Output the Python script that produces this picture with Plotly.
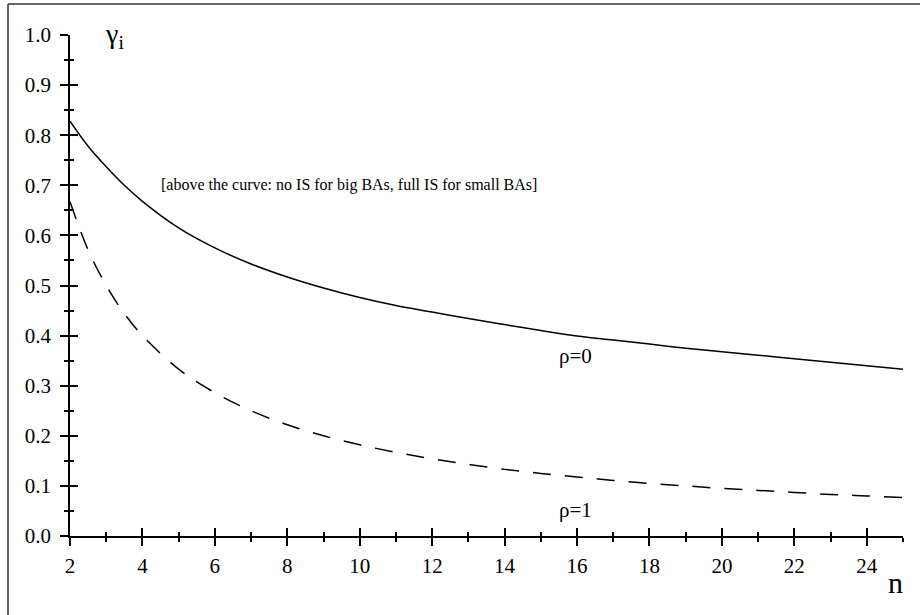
import plotly.graph_objects as go

# ---- data ----
n_vals = [2, 2.5, 3, 3.5, 4, 5, 6, 7, 8, 9, 10, 11, 12, 13, 14, 15, 16, 17, 18, 19, 20, 21, 22, 23, 24, 25]
gamma_rho0 = [0.828, 0.778, 0.737, 0.700, 0.668, 0.615, 0.575, 0.543, 0.517, 0.495, 0.476, 0.460,
              0.447, 0.434, 0.422, 0.410, 0.399, 0.391, 0.383, 0.375, 0.368, 0.361, 0.354, 0.347,
              0.340, 0.333]
gamma_rho1 = [0.667, 0.571, 0.500, 0.444, 0.400, 0.333, 0.286, 0.250, 0.222, 0.200, 0.182, 0.167,
              0.154, 0.143, 0.133, 0.125, 0.118, 0.111, 0.105, 0.100, 0.095, 0.091, 0.087, 0.083,
              0.080, 0.077]

x_range = [2, 25]
y_range = [0, 1.0]
x_ticks = list(range(2, 25, 2))
y_ticks = [round(0.1 * i, 1) for i in range(11)]
y_ticklabels = [f"{v:.1f}" for v in y_ticks]

note_text = "[above the curve: no IS for big BAs, full IS for small BAs]"
label_rho0 = "ρ=0"
label_rho1 = "ρ=1"
label_gamma = "γ<sub>i</sub>"
label_n = "n"

FONT = "Liberation Serif, Times New Roman, serif"
W, H = 920, 615
ML, MR, MT, MB = 70, 17, 35, 79

fig = go.Figure()
fig.add_trace(go.Scatter(x=n_vals, y=gamma_rho0, mode="lines", line=dict(color="black", width=1.5, shape="spline"),
                         showlegend=False, hoverinfo="skip"))
fig.add_trace(go.Scatter(x=n_vals, y=gamma_rho1, mode="lines", xaxis="x2", yaxis="y2",
                         line=dict(color="black", width=1.5, dash="18px,14px", shape="spline"),
                         showlegend=False, hoverinfo="skip"))

common_x = dict(range=x_range, showgrid=False, zeroline=False, tickcolor="black", tickwidth=1.5,
                tickmode="array", tickvals=x_ticks, ticklen=8)
common_y = dict(range=y_range, showgrid=False, zeroline=False, tickcolor="black", tickwidth=1.5,
                tickmode="array", tickvals=y_ticks, ticklen=8)

fig.update_layout(
    width=W, height=H,
    margin=dict(l=ML, r=MR, t=MT, b=MB, pad=0),
    paper_bgcolor="white", plot_bgcolor="white",
    font=dict(family=FONT, color="black", size=21),
    xaxis=dict(**common_x, ticks="outside", showline=True, linecolor="black", linewidth=1.5,
               ticktext=[str(v) for v in x_ticks], ticklabelstandoff=2,
               tickfont=dict(family=FONT, size=21, color="black"),
               minor=dict(ticks="outside", ticklen=4, dtick=1, tick0=2, tickcolor="black", tickwidth=1.5)),
    xaxis2=dict(**common_x, overlaying="x", anchor="y", side="bottom", ticks="inside", showline=False,
                showticklabels=False,
                minor=dict(ticks="inside", ticklen=4, dtick=1, tick0=2, tickcolor="black", tickwidth=1.5)),
    yaxis=dict(**common_y, ticks="outside", showline=True, linecolor="black", linewidth=1.5,
               ticktext=y_ticklabels, ticklabelstandoff=5,
               tickfont=dict(family=FONT, size=21, color="black"),
               minor=dict(ticks="outside", ticklen=4, dtick=0.05, tick0=0, tickcolor="black", tickwidth=1.5)),
    yaxis2=dict(**common_y, overlaying="y", anchor="x", side="left", ticks="inside", showline=False,
                showticklabels=False,
                minor=dict(ticks="inside", ticklen=4, dtick=0.05, tick0=0, tickcolor="black", tickwidth=1.5)),
)

fig.add_annotation(x=4.46, y=0.70, xref="x", yref="y", text=note_text, showarrow=False,
                   xanchor="left", yanchor="middle", font=dict(family=FONT, size=16, color="black"))
fig.add_annotation(x=15.95, y=0.36, xref="x", yref="y", text=label_rho0, showarrow=False,
                   xanchor="center", yanchor="middle", font=dict(family=FONT, size=21, color="black"))
fig.add_annotation(x=15.95, y=0.052, xref="x", yref="y", text=label_rho1, showarrow=False,
                   xanchor="center", yanchor="middle", font=dict(family=FONT, size=21, color="black"))
fig.add_annotation(x=2.9, y=1.0, xref="x", yref="y", text=label_gamma, showarrow=False,
                   xanchor="left", yanchor="middle", font=dict(family=FONT, size=28, color="black"))
fig.add_annotation(x=24.79, y=-0.092, xref="x", yref="paper", text=label_n, showarrow=False,
                   xanchor="center", yanchor="middle", font=dict(family=FONT, size=30, color="black"))

# figure frame (top and left edges only are visible in the reference)
pw = W - ML - MR
ph = H - MT - MB
fx = (8 - ML) / pw
fy = (H - MB - 4) / ph
fig.add_shape(type="line", xref="paper", yref="paper", x0=fx, y0=fy, x1=1.2, y1=fy,
              line=dict(color="#333333", width=1.5))
fig.add_shape(type="line", xref="paper", yref="paper", x0=fx, y0=fy, x1=fx, y1=-0.3,
              line=dict(color="#333333", width=1.5))

fig.write_html("out.html")
